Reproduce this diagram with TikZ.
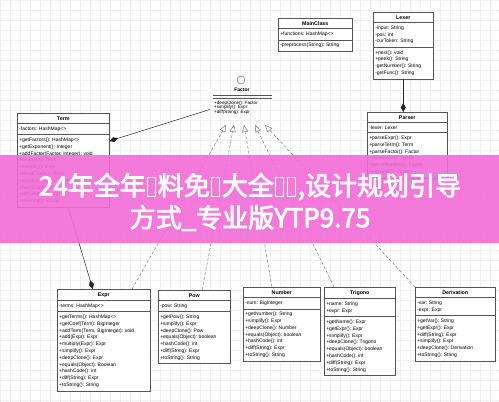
\documentclass[tikz,border=0pt]{standalone}
\usepackage{fontspec}
\setmainfont{Liberation Sans}
\newfontfamily\cjk{Noto Sans CJK SC}[AutoFakeBold=3]
\usetikzlibrary{shapes.multipart,arrows.meta,calc}

\definecolor{bannerpink}{RGB}{242,108,214}
\definecolor{boxline}{RGB}{85,85,85}

\newcommand{\umlfont}{\fontsize{5}{6.8}\selectfont\frenchspacing}
\newcommand{\umlhead}[1]{\hbox to\hsize{\hfil\fontsize{5.3}{6.8}\selectfont\textbf{#1}\hfil}}
\newcommand{\tofu}{\kern1.5pt\lower2pt\vbox{\hrule height1pt\hbox{\vrule width1pt height18pt\kern7pt\vrule width1pt}\hrule height1pt}\kern1.5pt}

\tikzset{
  umlclass/.style={draw=boxline, fill=white, line width=0.5pt, rectangle split,
    rectangle split parts=3, align=left, inner xsep=2pt, inner ysep=3pt,
    font=\umlfont, anchor=north west},
  compose/.style={draw=black!85, line width=0.5pt, -{Diamond[length=9pt,width=5pt]}},
  realize/.style={draw=black!60, densely dashed, line width=0.4pt,
    -{Triangle[open,length=7pt,width=6pt,line width=0.4pt]}},
}

\begin{document}
\begin{tikzpicture}[x=1pt,y=-1pt]

	\fill[white] (0,0) rectangle (499,402);
	\useasboundingbox (0,0) rectangle (499,402);
	\draw[black!6, step=10pt, line width=0.3pt] (0,0) grid (499,402);

	% top row
	\node[umlclass, text width=70pt] (mainclass) at (278,18) {\umlhead{MainClass}
		\nodepart{second}+functions: HashMap<>
		\nodepart{third}-preprocess(String): String};
	\node[umlclass, text width=56pt] (lexer) at (373,12) {\umlhead{Lexer}
		\nodepart{second}-input: String\\-pos: int\\-curToken: String
		\nodepart{third}+next(): void\\+peek(): String\\-getNumber(): String\\-getFunc(): String};
	\node[umlclass, text width=76pt] (parser) at (367,112) {\umlhead{Parser}
		\nodepart{second}-lexer: Lexer
		\nodepart{third}+parseExpr(): Expr\\+parseTerm(): Term\\+parseFactor(): Factor\\+parsePow(): Factor\\+parseNumber(): Factor\\+parseTri(): Factor};

	% the Factor interface
	\node[circle, draw=boxline, fill=white, minimum size=8pt, inner sep=0pt] (lollipop) at (241,80) {};
	\node[font=\bfseries\fontsize{5}{5}\selectfont, inner sep=0pt] (factorname) at (242,90) {Factor};
	\draw[boxline] (213,95.5) -- (272,95.5);
	\draw[boxline] (213,98) -- (272,98);
	\node[anchor=north west, align=left, font=\fontsize{4.6}{4.6}\selectfont\frenchspacing, inner sep=1pt] (factor) at (213,99.5)
		{+deepClone(): Factor\\+simplify(): Expr\\+diff(String): Expr};
	\coordinate (tip1) at (226,125);
	\coordinate (tip2) at (234,125);
	\coordinate (tip3) at (244,125);
	\coordinate (tip4) at (255,125);
	\coordinate (tip5) at (265,125);

	\node[umlclass, text width=88pt] (term) at (17,113) {\umlhead{Term}
		\nodepart{second}-factors: HashMap<>
		\nodepart{third}+getFactors(): HashMap<>\\+getExponent(): Integer\\+addFactor(Factor, Integer): void\\+multiply(): Term\\+simplify(): Expr\\+deepClone(): Term\\+equals(Object): Boolean\\+hashCode(): int\\+diff(String): Expr\\+toString(): String};

	% bottom row
	\node[umlclass, text width=89pt] (expr) at (57,289) {\umlhead{Expr}
		\nodepart{second}-terms: HashMap<>
		\nodepart{third}+getTerms(): HashMap<>\\+getCoef(Term): BigInteger\\+addTerm(Term, BigInteger): void\\+add(Expr): Expr\\+multiply(Expr): Expr\\+simplify(): Expr\\+deepClone(): Expr\\+equals(Object): Boolean\\+hashCode(): int\\+diff(String): Expr\\+toString(): String};
	\node[umlclass, text width=68pt] (pow) at (158,290) {\umlhead{Pow}
		\nodepart{second}-pow: String
		\nodepart{third}+getPow(): String\\+simplify(): Expr\\+deepClone(): Pow\\+equals(Object): boolean\\+hashCode(): int\\+diff(String): Expr\\+toString(): String};
	\node[umlclass, text width=73pt] (number) at (243,287) {\umlhead{Number}
		\nodepart{second}-num: BigInteger
		\nodepart{third}+getNumber(): String\\+simplify(): Expr\\+deepClone(): Number\\+equals(Object): boolean\\+hashCode(): int\\+diff(String): Expr\\+toString(): String};
	\node[umlclass, text width=67pt] (trigono) at (324,287) {\umlhead{Trigono}
		\nodepart{second}+name: String\\+expr: Expr
		\nodepart{third}+getName(): Expr\\+getExpr(): Expr\\+simplify(): Expr\\+deepClone(): Trigono\\+equals(Object): boolean\\+hashCode(): int\\+diff(String): Expr\\+toString(): String};
	\node[umlclass, text width=76pt] (derivation) at (415,287) {\umlhead{Derivation}
		\nodepart{second}-var: String\\-expr: Expr
		\nodepart{third}+getVar(): String\\+getExpr(): Expr\\+diff(String): Expr\\+simplify(): Expr\\+deepClone(): Derivation\\+toString(): String};

	% relations
	\draw[compose] (lexer.south) -- (lexer.south |- parser.north);
	\draw[compose] ($(factor.west)+(-3,2)$) -- ($(term.north east)+(0,28)$);
	\draw[compose] ($(term.south)+(5,0)$) -- ($(expr.north)+(-11,0)$);
	\draw[realize] ($(expr.north west)+(75,0)$) -- (tip1);
	\draw[realize] ($(pow.north west)+(44,0)$) -- (tip2);
	\draw[realize] ($(number.north west)+(29,0)$) -- (tip3);
	\draw[realize] ($(trigono.north west)+(10,0)$) -- (tip4);
	\draw[realize] (derivation.north west) -- (tip5);

	% banner
	\fill[bannerpink, opacity=0.9] (0,155) rectangle (499,243);
	\node[text=white, align=center, font=\cjk\bfseries\fontsize{26}{32}\selectfont] (banner) at (250,202)
		{24年全年\tofu 料免\tofu 大全\tofu\tofu,设计规划引导\\方式\_专业版YTP9.75};

\end{tikzpicture}
\end{document}
